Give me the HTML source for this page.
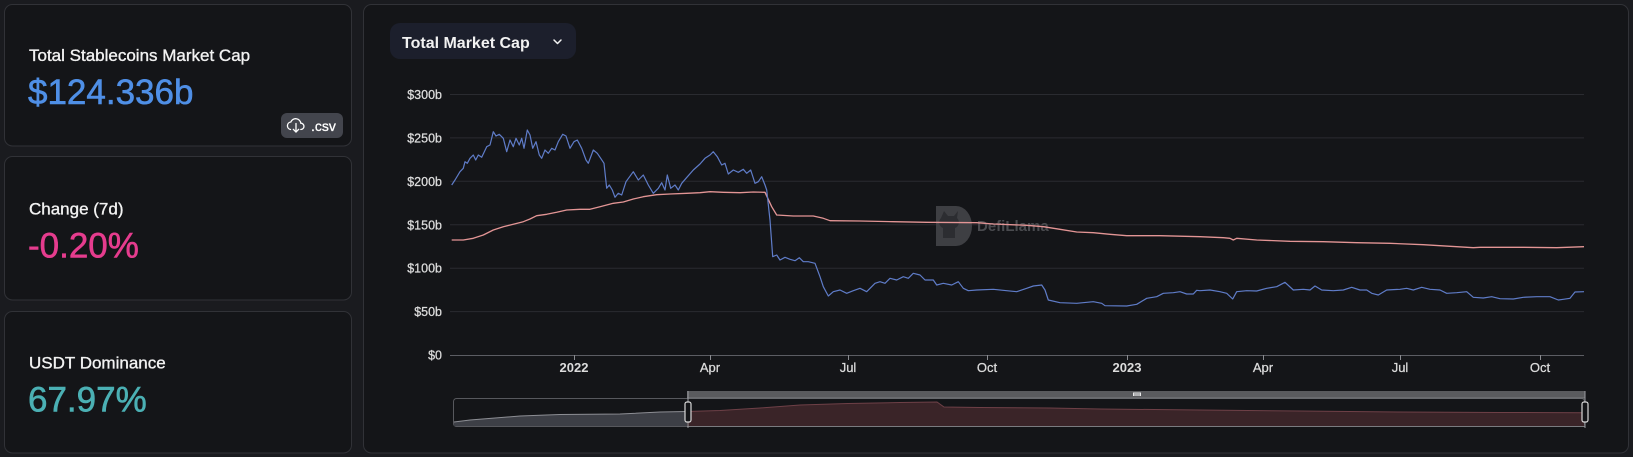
<!DOCTYPE html>
<html>
<head>
<meta charset="utf-8">
<style>
  html,body{margin:0;padding:0;background:#1a1b1f;}
  body{width:1633px;height:457px;overflow:hidden;}
  svg{display:block;}
  text{font-family:"Liberation Sans",Arial,sans-serif;}
</style>
</head>
<body>
<svg width="1633" height="457" viewBox="0 0 1633 457" xmlns="http://www.w3.org/2000/svg">
  <rect x="0" y="0" width="1633" height="457" fill="#1a1b1f"/>

  <!-- Left cards -->
  <rect x="4.5" y="4.5" width="347" height="141.5" rx="8" fill="#141518" stroke="#313237" stroke-width="1"/>
  <rect x="4.5" y="156.5" width="347" height="143.5" rx="8" fill="#141518" stroke="#313237" stroke-width="1"/>
  <rect x="4.5" y="311.5" width="347" height="141.5" rx="8" fill="#141518" stroke="#313237" stroke-width="1"/>

  <text x="29" y="61" font-size="17" fill="#f2f2f2" stroke="#f2f2f2" stroke-width="0.35">Total Stablecoins Market Cap</text>
  <text x="28" y="104" font-size="35" fill="#4f8fe6" stroke="#4f8fe6" stroke-width="0.6">$124.336b</text>

  <!-- csv button -->
  <rect x="281" y="113" width="62" height="25" rx="6" fill="#43454d"/>
  <path d="M290.5 129.5 a3.8 3.8 0 0 1 0.3 -7.5 a5.2 5.2 0 0 1 10 1.2 a3.1 3.1 0 0 1 0 6.3" fill="none" stroke="#ffffff" stroke-width="1.3" stroke-linecap="round"/>
  <line x1="296" y1="123.5" x2="296" y2="132" stroke="#ffffff" stroke-width="1.3" stroke-linecap="round"/>
  <polyline points="293.3,129.3 296,132 298.7,129.3" fill="none" stroke="#ffffff" stroke-width="1.3" stroke-linecap="round" stroke-linejoin="round"/>
  <text x="311" y="131" font-size="14" fill="#ffffff" stroke="#ffffff" stroke-width="0.3">.csv</text>

  <text x="29" y="214.5" font-size="17" fill="#f2f2f2" stroke="#f2f2f2" stroke-width="0.35">Change (7d)</text>
  <text x="28" y="257.5" font-size="35" fill="#e63c8e" stroke="#e63c8e" stroke-width="0.6">-0.20%</text>

  <text x="29" y="368.5" font-size="17" fill="#f2f2f2" stroke="#f2f2f2" stroke-width="0.35">USDT Dominance</text>
  <text x="28" y="411.5" font-size="35" fill="#4bb0b4" stroke="#4bb0b4" stroke-width="0.6">67.97%</text>

  <!-- Chart panel -->
  <rect x="363.5" y="4.5" width="1265" height="448.5" rx="8" fill="#141518" stroke="#313237" stroke-width="1"/>

  <!-- Title button -->
  <rect x="390" y="23" width="186" height="36" rx="10" fill="#1c1f2c"/>
  <text x="402" y="48" font-size="16" font-weight="bold" fill="#f2f2f2">Total Market Cap</text>
  <polyline points="554,40 557.5,43.5 561,40" fill="none" stroke="#f2f2f2" stroke-width="1.5" stroke-linecap="round" stroke-linejoin="round"/>

  <!-- Gridlines -->
  <g stroke="#2a2b30" stroke-width="1">
    <line x1="450" y1="94.5" x2="1584" y2="94.5"/>
    <line x1="450" y1="137.9" x2="1584" y2="137.9"/>
    <line x1="450" y1="181.3" x2="1584" y2="181.3"/>
    <line x1="450" y1="224.8" x2="1584" y2="224.8"/>
    <line x1="450" y1="268.2" x2="1584" y2="268.2"/>
    <line x1="450" y1="311.6" x2="1584" y2="311.6"/>
  </g>
  <line x1="450" y1="355.5" x2="1584" y2="355.5" stroke="#5c5d63" stroke-width="1"/>
  <g stroke="#8a8b90" stroke-width="1">
    <line x1="574.5" y1="355" x2="574.5" y2="360"/>
    <line x1="710.5" y1="355" x2="710.5" y2="360"/>
    <line x1="848.5" y1="355" x2="848.5" y2="360"/>
    <line x1="987.5" y1="355" x2="987.5" y2="360"/>
    <line x1="1127.5" y1="355" x2="1127.5" y2="360"/>
    <line x1="1263.5" y1="355" x2="1263.5" y2="360"/>
    <line x1="1400.5" y1="355" x2="1400.5" y2="360"/>
    <line x1="1540.5" y1="355" x2="1540.5" y2="360"/>
  </g>

  <!-- Y labels -->
  <g font-size="12.5" fill="#dcdcdc" stroke="#dcdcdc" stroke-width="0.25" text-anchor="end">
    <text x="442" y="99">$300b</text>
    <text x="442" y="142.4">$250b</text>
    <text x="442" y="185.8">$200b</text>
    <text x="442" y="229.3">$150b</text>
    <text x="442" y="272.7">$100b</text>
    <text x="442" y="316.1">$50b</text>
    <text x="442" y="359.5">$0</text>
  </g>
  <!-- X labels -->
  <g font-size="13" fill="#dcdcdc" text-anchor="middle">
    <text x="574" y="372" font-weight="bold">2022</text>
    <text x="710" y="372" stroke="#dcdcdc" stroke-width="0.25">Apr</text>
    <text x="848" y="372" stroke="#dcdcdc" stroke-width="0.25">Jul</text>
    <text x="987" y="372" stroke="#dcdcdc" stroke-width="0.25">Oct</text>
    <text x="1127" y="372" font-weight="bold">2023</text>
    <text x="1263" y="372" stroke="#dcdcdc" stroke-width="0.25">Apr</text>
    <text x="1400" y="372" stroke="#dcdcdc" stroke-width="0.25">Jul</text>
    <text x="1540" y="372" stroke="#dcdcdc" stroke-width="0.25">Oct</text>
  </g>

  <!-- Watermark -->
  <g>
    <path d="M936 206 h20 a16 20 0 0 1 0 40 h-20 z" fill="#3e3f43"/>
    <path d="M944 211 l4 5 h6 l4 -5 l-1 7 a6 6 0 0 1 -2 10 v10 h-12 v-10 a6 6 0 0 1 -2 -10 z" fill="#2c2d31"/>
    <text x="977" y="231" font-size="15" font-weight="bold" fill="#4a4b4f">DefiLlama</text>
  </g>

  <!-- Red series -->
  <polyline fill="none" stroke="#e39595" stroke-width="1.3" stroke-linejoin="round" points="
451.7,240 463.3,240 473.3,238.3 483.3,235 493.3,230 503.3,226.7 513.3,224.3 523.3,221.7 530,219 536.7,215.7
546.7,214.3 556.7,212.3 566.7,210 580,209.3 590,209.3 600,206.7 613.3,203.3 623.3,202 633.3,199 643.3,196.7
656.7,194.7 670,194 686.7,193.3 700,192.7 710,191.7 723.3,192.3 740,192.7 753.3,192 765,192.3 771.7,206.7
776.7,215 793.3,216 813.3,216 823.3,218.3 830,220.7 860,221 893.3,221.7 926.7,222.3 976.7,222.7 993.3,224
1026.7,225.3 1043.3,226.7 1060,229.3 1076.7,232 1093.3,232.7 1110,234.3 1126.7,235.7 1160,235.7 1200,236.7
1223.3,237.7 1230,238.3 1233.3,240 1236.7,238.3 1256.7,240 1290,241.3 1323.3,241.7 1356.7,242.7 1390,243.3
1423.3,244.7 1456.7,246.7 1473.3,247.7 1480,247.3 1523.3,247.3 1556.7,247.7 1584,246.7"/>

  <!-- Blue series -->
  <polyline fill="none" stroke="#5f7cc8" stroke-width="1.2" stroke-linejoin="round" points="
451.7,185 455,180 460,171.7 463.3,168.3 465,161.7 467.3,163.3 470,158.3 473.3,155 475.7,160 478.3,155
481.7,157.3 486.7,146.7 490,145 493.3,131.7 496,136 499.3,134.3 503.3,138.3 506.7,151.7 510,140 513.3,146.7
516,138.3 519.3,145 521.7,138.3 524,148.3 527.3,130 530,135 532.7,148.3 536,141.7 539.3,155 541.7,158.3
545,150 548.3,153.3 551.7,148.3 555,150 558.3,141.7 562.7,134.3 566,136 570,148.3 574,141.7 577.3,140
581.7,148.3 586,160 588.3,163.3 593.3,150 597.3,153.3 600.7,158.3 604,163.3 606.7,188.3 609.3,185 612.3,190
615,197.3 618.3,193.3 621.7,195 626,181.7 633.3,171.7 638.3,180 643.3,175 648.3,185 653.3,193.3 658.3,188.3
661.7,182.7 665,190 667.3,175 670.7,188.3 675,185 678.3,190 681.7,183.3 686,178.3 693.3,170 700,164
705,158.3 710,155 713.3,151.7 717.3,156.7 721.7,165 725,163.3 728.3,174 733.3,170 738.3,172.3 743.3,169.3
746.7,173.3 750.7,170 755,183.3 758.3,181.7 761.7,176.7 765,185 766.7,190 770,220 772.7,256.7 776.7,255
780,260 785,257.3 790,259.3 795,260.7 799.3,257.7 803.3,261.7 808.3,261.7 815,263.3 820,276.7 823.3,286.7
828.3,296 833.3,291.7 840,290 846.7,293.3 853.3,290.7 860,288.3 866.7,291.7 875,283.3 880,281.7 885,283.3
890,278.3 896.7,280 903.3,276.7 908.3,278.3 913.3,273.3 920,275 925,280 933.3,280 936.7,285 943.3,283.3
951.7,285 958.3,281.7 963.3,288.3 968.3,290.7 976.7,290 993.3,289.3 1006.7,290.7 1016.7,291.7 1026.7,288.3
1033.3,286 1041.7,285 1045,290 1048.3,300 1060,302.7 1076.7,303.3 1093.3,301.7 1101.7,303.3 1105,305.7
1126.7,306 1136.7,304.3 1146.7,298.3 1156.7,296.7 1163.3,293.3 1173.3,292.7 1180,291.7 1186.7,294 1193.3,294
1196.7,290.3 1200,290.7 1210,290 1220,291.7 1226.7,293.3 1232.7,299 1236.7,291.7 1246.7,290.7 1256.7,291
1266.7,288.3 1276.7,286.7 1285,282.3 1293.3,290 1303.3,289.3 1310,290 1315,286 1321.7,290 1333.3,290.7
1343.3,290 1351.7,287.3 1360,290 1366.7,290 1371.7,293.3 1378.3,295 1386.7,290 1400,289.3 1406.7,288.3
1413.3,290 1421.7,287.3 1430,289.3 1440,290 1446.7,293.3 1456.7,292.7 1466.7,291.7 1473.3,297.3 1483.3,298
1491.7,296.7 1500,298.7 1513.3,299 1523.3,297.3 1536.7,296.7 1550,296.7 1558.3,300 1563.3,299.3 1570,298.3
1575,292 1584,291.7"/>

  <!-- Brush / data zoom -->
  <rect x="453.5" y="398.5" width="1131" height="28" rx="3" fill="#141518" stroke="#57585d" stroke-width="1"/>
  <polygon fill="#3d3f46" points="454,422 470,420 520,416 560,414.5 620,414 660,412 687,411.5 687,426 454,426"/>
  <polyline fill="none" stroke="#8d8e94" stroke-width="1" points="454,422 470,420 520,416 560,414.5 620,414 660,412 687,411.5"/>
  <polygon fill="#3a2428" points="687,411.5 720,410.5 760,408 800,405 848,403.5 900,402.5 937,402 944,407 980,407.5 1050,408 1100,409 1200,410 1300,411 1400,412 1500,412.5 1584,412.7 1584,426 687,426"/>
  <polyline fill="none" stroke="#6e4047" stroke-width="1" points="687,411.5 720,410.5 760,408 800,405 848,403.5 900,402.5 937,402 944,407 980,407.5 1050,408 1100,409 1200,410 1300,411 1400,412 1500,412.5 1584,412.7"/>
  <rect x="687" y="391" width="898" height="7" fill="#5a5b5e"/>
  <line x1="687" y1="398" x2="1585" y2="398" stroke="#7a7b7f" stroke-width="1"/>
  <line x1="687" y1="426.5" x2="1585" y2="426.5" stroke="#7a7b7f" stroke-width="1"/>
  <rect x="1133" y="392.5" width="8" height="3.5" fill="#e8e8e8"/>
  <g stroke="#7a7b7f" stroke-width="1"><line x1="1135" y1="393" x2="1135" y2="396"/><line x1="1137" y1="393" x2="1137" y2="396"/><line x1="1139" y1="393" x2="1139" y2="396"/></g>
  <!-- handles -->
  <line x1="688" y1="391" x2="688" y2="428" stroke="#9a9ba0" stroke-width="1"/>
  <rect x="685" y="402" width="6" height="20" rx="2" fill="#141518" stroke="#d8d8d8" stroke-width="1.2"/>
  <line x1="1585" y1="391" x2="1585" y2="428" stroke="#9a9ba0" stroke-width="1"/>
  <rect x="1582" y="402" width="6" height="20" rx="2" fill="#141518" stroke="#d8d8d8" stroke-width="1.2"/>
</svg>
</body>
</html>
